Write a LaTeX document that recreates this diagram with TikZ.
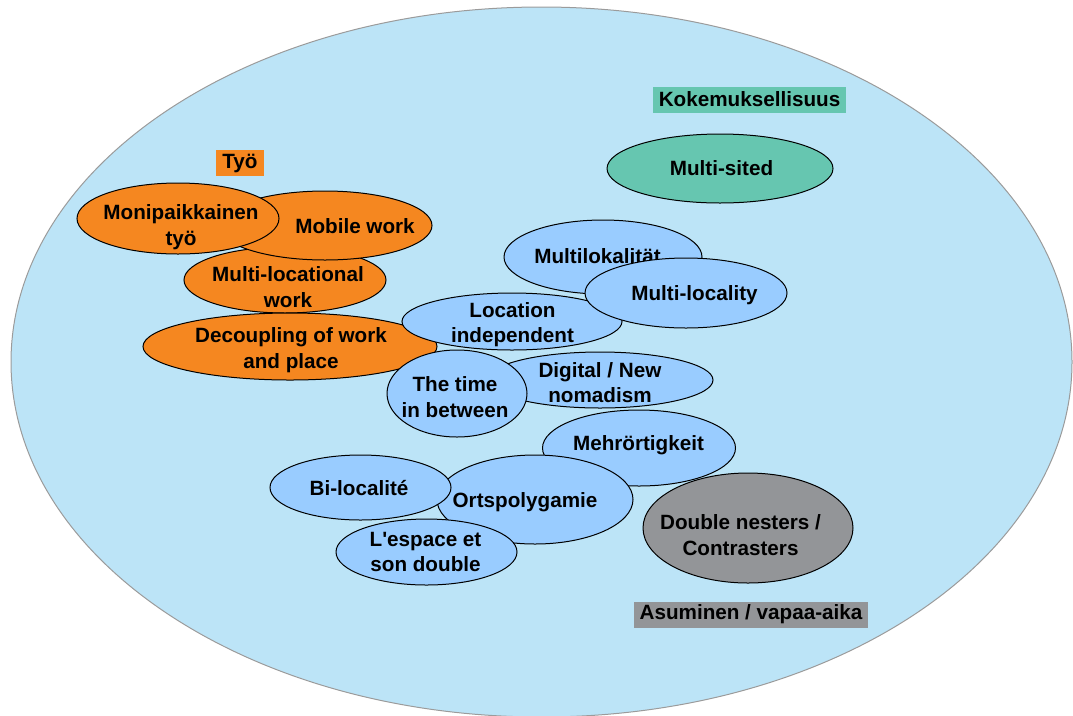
\documentclass[tikz,border=0pt]{standalone}
\usepackage{fontspec}
\setmainfont{Liberation Sans}
\usetikzlibrary{shapes.geometric}
\definecolor{skyfill}{RGB}{188,228,247}
\definecolor{rimgray}{RGB}{155,155,155}
\definecolor{workorange}{RGB}{245,135,32}
\definecolor{placeblue}{RGB}{153,204,255}
\definecolor{expteal}{RGB}{102,198,176}
\definecolor{homegray}{RGB}{147,149,152}
\tikzset{%
	oval/.style 2 args = {draw, ellipse, line width=0.75pt, minimum width=#1*1.5pt, minimum height=#2*1.5pt, inner sep=0pt}, % rx, ry in px
	txt/.style         = {align=center, inner sep=0pt, font=\bfseries\fontsize{15.5}{19}\selectfont},
	areatag/.style     = {txt, fill=#1, inner xsep=4.5pt, minimum height=19.5pt}, % Area title
}
\begin{document}
\begin{tikzpicture}[x=0.75pt,y=-0.75pt]
	\useasboundingbox (0,0) rectangle (1073,715);
	\node [oval={530.5}{355}, draw=rimgray, fill=skyfill] (field) at (541.5,362) {};
	
	% Kokemuksellisuus
	\node [oval={113}{34.5}, fill=expteal] (sited) at (720,168.5) {};
	\node [txt] (sitedt) at (721.5,168) {Multi-sited};
	
	% Tyo
	\node [oval={101}{33}, fill=workorange] (multiloc) at (285,280) {};
	\node [txt] (multiloct) at (288,287) {Multi-locational\\work};
	\node [oval={107}{34.5}, fill=workorange] (mobile) at (325,225.5) {};
	\node [txt] (mobilet) at (355,226) {Mobile work};
	\node [oval={101}{35.5}, fill=workorange] (moni) at (178,218.5) {};
	\node [txt] (monit) at (181,227) {Monipaikkainen\\työ};
	\node [oval={147}{33.5}, fill=workorange] (decoup) at (290,346.5) {};
	\node [txt] (decoupt) at (291,350) {Decoupling of work\\and place};
	
	% Multi-locality
	\node [oval={99}{37}, fill=placeblue] (lokal) at (603,257) {};
	\node [txt] (lokalt) at (597.5,256.5) {Multilokalität};
	\node [oval={110}{28.5}, fill=placeblue] (indep) at (512,321.5) {};
	\node [txt] (indept) at (512.5,324.5) {Location\\independent};
	\node [oval={101}{35}, fill=placeblue] (locality) at (686,293) {};
	\node [txt] (localityt) at (694.5,295.5) {Multi-locality};
	\node [oval={113}{28}, fill=placeblue] (nomad) at (600,380) {};
	\node [txt] (nomadt) at (600,382.5) {Digital / New\\nomadism};
	\node [oval={70}{43.5}, fill=placeblue] (between) at (457,393.5) {};
	\node [txt] (betweent) at (455,397) {The time\\in between};
	\node [oval={96.5}{38}, fill=placeblue] (mehr) at (639,448) {};
	\node [txt] (mehrt) at (638.5,445) {Mehrörtigkeit};
	\node [oval={98}{44.5}, fill=placeblue] (orts) at (535,499.5) {};
	\node [txt] (ortst) at (525,502) {Ortspolygamie};
	\node [oval={90.5}{32.5}, fill=placeblue] (biloc) at (360.5,487.5) {};
	\node [txt] (biloct) at (359,488.5) {Bi-localité};
	\node [oval={90.5}{33}, fill=placeblue] (espace) at (426.5,552) {};
	\node [txt] (espacet) at (425.5,552) {L\textquotesingle espace et\\son double};
	
	% Asuminen
	\node [oval={105}{55}, fill=homegray] (nesters) at (748,528) {};
	\node [txt] (nesterst) at (740.5,535) {Double nesters /\\Contrasters};
	
	\node [areatag=workorange] (tyo) at (240,163) {Työ};
	\node [areatag=expteal] (koke) at (749.5,99.5) {Kokemuksellisuus};
	\node [areatag=homegray] (asu) at (751,614.5) {Asuminen / vapaa-aika};
\end{tikzpicture}
\end{document}
